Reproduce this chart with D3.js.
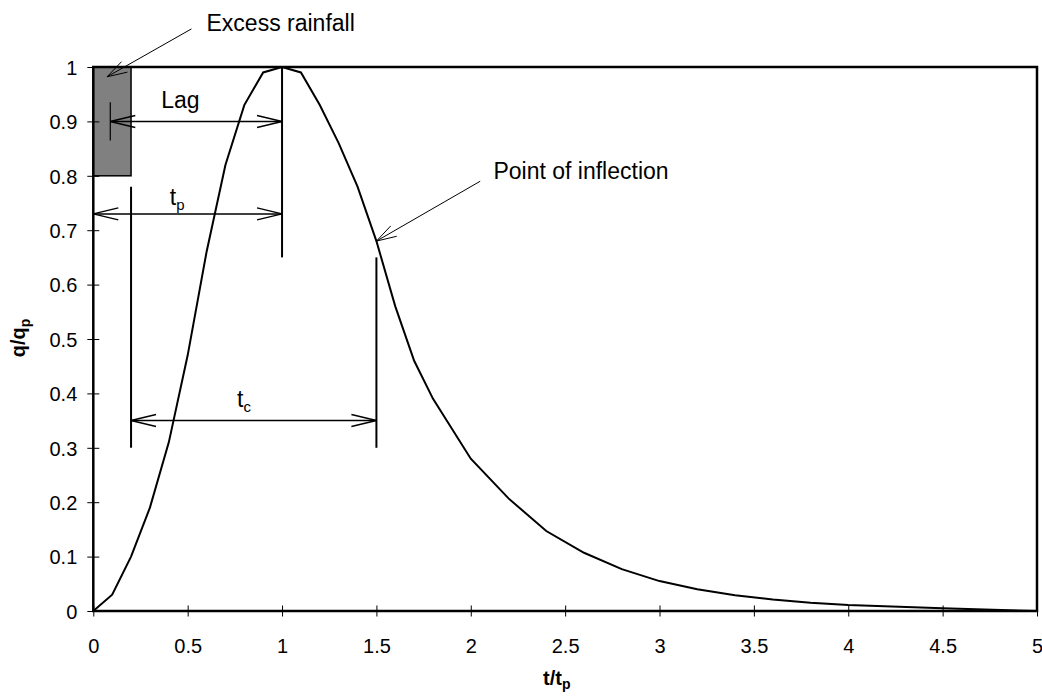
<!DOCTYPE html>
<html>
<head>
<meta charset="utf-8">
<script src="https://cdn.jsdelivr.net/npm/d3@7"></script>
<style>
  html, body { margin: 0; padding: 0; background: #fff; }
  svg { display: block; font-family: "Liberation Sans", Arial, sans-serif; }
</style>
</head>
<body>
<svg id="chart" width="1042" height="698"></svg>
<script>
// ---- data ----
const tRatio = [0, 0.1, 0.2, 0.3, 0.4, 0.5, 0.6, 0.7, 0.8, 0.9, 1.0, 1.1, 1.2, 1.3, 1.4, 1.5, 1.6, 1.7, 1.8, 2.0, 2.2, 2.4, 2.6, 2.8, 3.0, 3.2, 3.4, 3.6, 3.8, 4.0, 4.5, 5.0];
const qRatio = [0, 0.03, 0.10, 0.19, 0.31, 0.47, 0.66, 0.82, 0.93, 0.99, 1.00, 0.99, 0.93, 0.86, 0.78, 0.68, 0.56, 0.46, 0.39, 0.28, 0.207, 0.147, 0.107, 0.077, 0.055, 0.040, 0.029, 0.021, 0.015, 0.011, 0.005, 0.0];
const xTicks = [0, 0.5, 1, 1.5, 2, 2.5, 3, 3.5, 4, 4.5, 5];
const yTicks = [0, 0.1, 0.2, 0.3, 0.4, 0.5, 0.6, 0.7, 0.8, 0.9, 1];
// excess rainfall block (t from, t to, q from, q to)
const rainfall = [0, 0.2, 0.8, 1.0];
// annotation dimension arrows: [t1, t2, q]
const dimArrows = [[0.09, 1.0, 0.9], [0, 1.0, 0.73], [0.2, 1.5, 0.35]];
// vertical guide lines: [t, q1, q2, width]
const guides = [[1.0, 1.0, 0.65, 2], [0.2, 0.78, 0.30, 2], [1.5, 0.65, 0.30, 2], [0.09, 0.935, 0.865, 1.2]];
// callouts: [label, textT, textQ, fromT, fromQ, tipT, tipQ]
const callouts = [
  ["Excess rainfall", 0.60, 1.066, 0.52, 1.07, 0.073, 0.982],
  ["Point of inflection", 2.12, 0.794, 2.05, 0.79, 1.5, 0.68]
];
// dimension labels: [main, sub, t, q]
const dimLabels = [["Lag", "", 0.36, 0.925], ["t", "p", 0.405, 0.746], ["t", "c", 0.762, 0.375]];

// ---- drawing ----
const svg = d3.select("#chart");
const x = d3.scaleLinear().domain([0, 5]).range([93.3, 1037]);
const y = d3.scaleLinear().domain([0, 1]).range([611, 67]);

// rainfall block
svg.append("rect")
  .attr("x", x(rainfall[0])).attr("y", y(rainfall[3]))
  .attr("width", x(rainfall[1]) - x(rainfall[0]))
  .attr("height", y(rainfall[2]) - y(rainfall[3]))
  .attr("fill", "#808080").attr("stroke", "#000").attr("stroke-width", 1.5);

// axes
const xAxis = svg.append("g").attr("transform", `translate(0,${y(0)})`)
  .call(d3.axisBottom(x).tickValues(xTicks).tickFormat(d3.format("")).tickSize(5.5).tickPadding(22));
xAxis.selectAll(".tick line").attr("y1", -5.5).attr("y2", 5.5).attr("stroke", "#000");
const yAxis = svg.append("g").attr("transform", `translate(${x(0)},0)`)
  .call(d3.axisLeft(y).tickValues(yTicks).tickFormat(d3.format("")).tickSize(6).tickPadding(10));
yAxis.selectAll(".tick line").attr("x1", -6).attr("x2", 6).attr("stroke", "#000");
svg.selectAll(".domain").remove();
svg.selectAll(".tick text").attr("font-size", 20).attr("fill", "#000")
  .attr("font-family", '"Liberation Sans", Arial, sans-serif');
yAxis.selectAll(".tick text").attr("dy", "0.36em");

// plot frame
svg.append("rect")
  .attr("x", x(0)).attr("y", y(1))
  .attr("width", x(5) - x(0)).attr("height", y(0) - y(1))
  .attr("fill", "none").attr("stroke", "#000").attr("stroke-width", 2.5);

// curve
const pts = tRatio.map((t, i) => [t, qRatio[i]]);
svg.append("path").datum(pts)
  .attr("d", d3.line().x(d => x(d[0])).y(d => y(d[1])))
  .attr("fill", "none").attr("stroke", "#000").attr("stroke-width", 2);

// guides
guides.forEach(g => {
  svg.append("line").attr("x1", x(g[0])).attr("x2", x(g[0]))
    .attr("y1", y(g[1])).attr("y2", y(g[2]))
    .attr("stroke", "#000").attr("stroke-width", g[3]);
});

// open arrowhead helper
function head(px, py, fromX, fromY, len, half, w) {
  const dx = px - fromX, dy = py - fromY;
  const L = Math.hypot(dx, dy), ux = dx / L, uy = dy / L;
  const bx = px - ux * len, by = py - uy * len;
  const nx = -uy, ny = ux;
  svg.append("path")
    .attr("d", `M${bx + nx * half},${by + ny * half}L${px},${py}L${bx - nx * half},${by - ny * half}`)
    .attr("fill", "none").attr("stroke", "#000").attr("stroke-width", w);
}

// dimension arrows
dimArrows.forEach(a => {
  const x1 = x(a[0]), x2 = x(a[1]), yy = y(a[2]);
  svg.append("line").attr("x1", x1).attr("x2", x2).attr("y1", yy).attr("y2", yy)
    .attr("stroke", "#000").attr("stroke-width", 1.5);
  head(x1, yy, x2, yy, 25, 6, 1.5);
  head(x2, yy, x1, yy, 25, 6, 1.5);
});

// callouts
callouts.forEach(c => {
  const fx = x(c[3]), fy = y(c[4]), tx = x(c[5]), ty = y(c[6]);
  svg.append("line").attr("x1", fx).attr("y1", fy).attr("x2", tx).attr("y2", ty)
    .attr("stroke", "#000").attr("stroke-width", 1);
  head(tx, ty, fx, fy, 20, 6, 1);
  svg.append("text").attr("x", x(c[1])).attr("y", y(c[2]))
    .attr("font-size", 23).attr("fill", "#000").text(c[0]);
});

// dimension labels
dimLabels.forEach(l => {
  const t = svg.append("text").attr("x", x(l[2])).attr("y", y(l[3]))
    .attr("font-size", 23).attr("fill", "#000");
  t.append("tspan").text(l[0]);
  if (l[1]) t.append("tspan").attr("font-size", 15).attr("dy", 5).text(l[1]);
});

// axis titles
const xt = svg.append("text").attr("x", 543).attr("y", 685)
  .attr("font-size", 20).attr("font-weight", "bold").attr("fill", "#000");
xt.append("tspan").text("t/t");
xt.append("tspan").attr("font-size", 14).attr("dy", 4).text("p");

const yt = svg.append("text").attr("transform", "translate(25,338) rotate(-90)")
  .attr("text-anchor", "middle")
  .attr("font-size", 20).attr("font-weight", "bold").attr("fill", "#000");
yt.append("tspan").text("q/q");
yt.append("tspan").attr("font-size", 14).attr("dy", 5).text("p");
</script>
</body>
</html>
